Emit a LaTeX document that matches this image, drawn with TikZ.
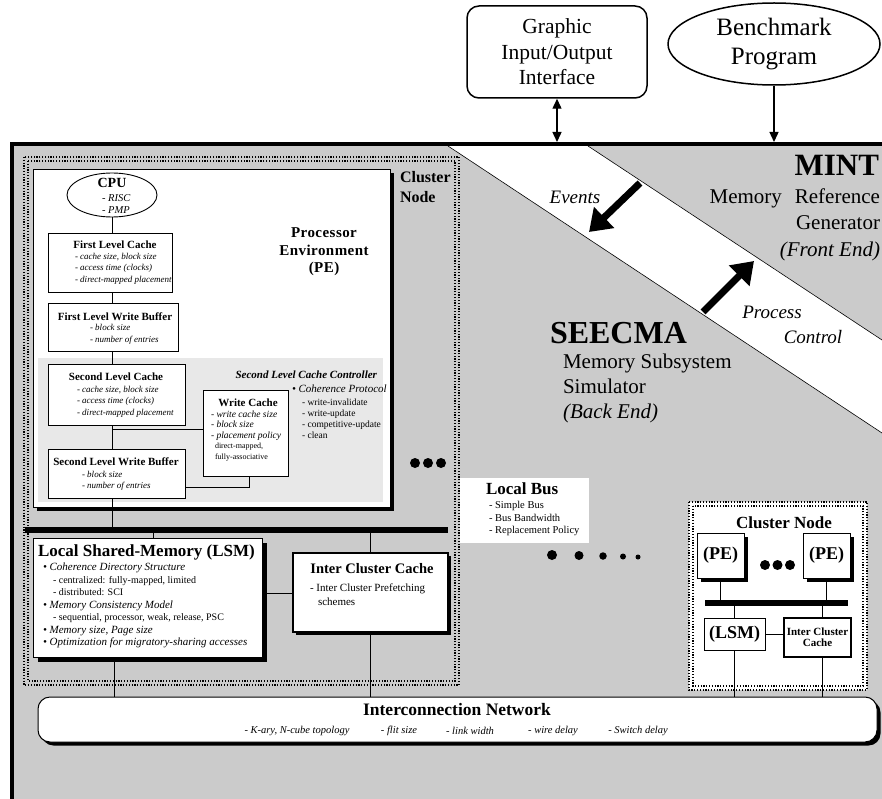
\documentclass[tikz,border=0pt]{standalone}
\usepackage{fontspec}
\setmainfont{Liberation Serif}
\usetikzlibrary{arrows.meta,shadows,shapes.geometric}
\pgfdeclarelayer{backdrop}
\pgfdeclarelayer{panels}
\pgfdeclarelayer{wires}
\pgfsetlayers{backdrop,panels,wires,main}
\definecolor{panelgray}{HTML}{CBCBCB}
\definecolor{ctrlgray}{HTML}{E8E8E8}
\newcommand{\pfont}[2]{\fontsize{#1}{#2}\selectfont}
\begin{document}
\begin{tikzpicture}[x=1pt,y=-1pt,
  lbl/.style={inner sep=0pt, outer sep=0pt, anchor=west, align=left},
  ctr/.style={inner sep=0pt, outer sep=0pt, align=center},
  rlbl/.style={inner sep=0pt, outer sep=0pt, anchor=east, align=right},
  unitbox/.style={draw=black, fill=white, line width=0.8pt, inner sep=0pt, outer sep=0pt, anchor=north west},
  castshadow/.style={drop shadow={shadow xshift=#1, shadow yshift=-#1, fill=black, opacity=1}},
  wire/.style={line width=0.9pt},
  busbar/.style={fill=black, draw=none, inner sep=0pt, outer sep=0pt, anchor=north west},
  dotframe/.style={draw=black, line width=1.3pt, dash pattern=on 1.2pt off 1.6pt},
  fatarrow/.style={line width=7pt, -{Triangle[length=21pt,width=28pt]}},
  thinarrow/.style={line width=1.4pt, -{Triangle[length=10pt,width=9pt]}},
  blob/.style={circle, fill=black, inner sep=0pt, minimum size=#1},
  titlef/.style={font=\pfont{11}{13}\bfseries},
  itemf/.style={font=\pfont{9}{11.5}\itshape},
]
\useasboundingbox (0,0) rectangle (882,799);

% ---------- simulator frame with the MINT / SEECMA split ----------
\begin{pgfonlayer}{backdrop}
  \fill[white] (0,0) rectangle (882,799);
  \fill[panelgray] (12,144) rectangle (882,799);
  \fill[white] (448,146) -- (588,146) -- (882,340) -- (882,433) -- cycle;
  \draw[line width=0.6pt] (448,146) -- (882,433);
  \draw[line width=0.6pt] (588,146) -- (882,340);
  \draw[line width=4pt] (12,799) -- (12,144) -- (882,144);
\end{pgfonlayer}

% ---------- inputs above the frame ----------
\node[draw, line width=1.5pt, rounded corners=12pt, minimum width=180, minimum height=92,
      inner sep=0pt, align=center, font=\pfont{21.5}{25.5}] (gio) at (557,52)
      {Graphic\\Input/Output\\Interface};
\node[draw, ellipse, line width=1.5pt, minimum width=212, minimum height=82, inner sep=0pt,
      align=center, font=\pfont{25}{29}] (bench) at (774,44) {Benchmark\\Program};
\coordinate (gio-in) at (557,142);
\coordinate (bench-in) at (774,142);
\draw[line width=1.4pt, {Triangle[length=10pt,width=9pt]}-{Triangle[length=10pt,width=9pt]}] (gio.south) -- (gio-in);
\draw[thinarrow] (bench.south) -- (bench-in);

% ---------- front end / back end ----------
\node[rlbl, font=\pfont{31}{31}\bfseries] (mint) at (879,165) {MINT};
\node[rlbl, font=\pfont{21}{26.5}] (mint-d) at (880,224.5)
      {Memory\hspace{13pt}Reference\\Generator\\\textit{(Front End)}};
\node[lbl, font=\pfont{32}{32}\bfseries] (seecma) at (550,333) {SEECMA};
\node[lbl, font=\pfont{21}{25}] (seecma-d) at (563,388)
      {Memory Subsystem\\Simulator\\\textit{(Back End)}};

\coordinate (ev-s) at (640,183);
\coordinate (ev-e) at (589,232);
\coordinate (pc-s) at (703,312);
\coordinate (pc-e) at (754,261);
\draw[fatarrow] (ev-s) -- (ev-e);
\draw[fatarrow] (pc-s) -- (pc-e);
\node[ctr, font=\pfont{19}{19}\itshape] (events) at (575,197) {Events};
\node[ctr, font=\pfont{19}{19}\itshape] (process) at (772,312) {Process};
\node[ctr, font=\pfont{19}{19}\itshape] (control) at (813,337) {Control};

% ---------- cluster node frames, processor environment ----------
\begin{pgfonlayer}{panels}
  \draw[dotframe] (24,157) rectangle (459,685);
  \draw[dotframe] (28,161) rectangle (455,681);
  \node[unitbox, castshadow=4pt, minimum width=357, minimum height=338] (pe) at (33,169) {};
  \node[fill=ctrlgray, inner sep=0pt, outer sep=0pt, anchor=north west,
        minimum width=345, minimum height=144] (slcc) at (38,358) {};
  \draw[dotframe, fill=white] (689,502) rectangle (867,690);
  \draw[dotframe] (693,506) rectangle (863,686);
\end{pgfonlayer}

\node[lbl, font=\pfont{16}{20}\bfseries] (cn-t) at (400,187) {Cluster\\Node};
\node[ctr, font=\pfont{15}{17.5}\bfseries\addfontfeature{LetterSpace=3}] (pe-t) at (324,252)
      {Processor\\Environment\\(PE)};

% CPU
\node[draw, ellipse, line width=0.9pt, fill=white, minimum width=90, minimum height=44, inner sep=0pt] (cpu) at (112,195) {};
\node[ctr, font=\pfont{14}{14}\bfseries] (cpu-t) at (112,183) {CPU};
\node[lbl, font=\pfont{10.5}{12}\itshape] (cpu-i) at (102,204) {- RISC\\- PMP};

% first level
\node[unitbox, minimum width=124, minimum height=59] (flc) at (48,233) {};
\node[ctr, titlef] (flc-t) at (115,245) {First Level Cache};
\node[lbl, itemf] (flc-i) at (75,268.5) {- cache size, block size\\- access time (clocks)\\- direct-mapped placement};

\node[unitbox, minimum width=130, minimum height=48] (flwb) at (48,303) {};
\node[ctr, titlef] (flwb-t) at (115,317) {First Level Write Buffer};
\node[lbl, itemf] (flwb-i) at (90,334.5) {- block size\\- number of entries};

% second level
\node[unitbox, minimum width=137, minimum height=61] (slc) at (48,364) {};
\node[ctr, titlef] (slc-t) at (116,377) {Second Level Cache};
\node[lbl, itemf] (slc-i) at (77,401.5) {- cache size, block size\\- access time (clocks)\\- direct-mapped placement};

\node[unitbox, minimum width=137, minimum height=49] (slwb) at (48,449) {};
\node[ctr, titlef] (slwb-t) at (116,462) {Second Level Write Buffer};
\node[lbl, itemf] (slwb-i) at (82,481) {- block size\\- number of entries};

\node[unitbox, minimum width=85, minimum height=86] (wc) at (203,390) {};
\node[ctr, titlef] (wc-t) at (248,403) {Write Cache};
\node[lbl, font=\pfont{9.5}{10.5}\itshape] (wc-i) at (211,425.5) {- write cache size\\- block size\\- placement policy};
\node[lbl, font=\pfont{8}{11}] (wc-p) at (215,452.5) {direct-mapped,\\fully-associative};

\node[rlbl, font=\pfont{11}{13}\bfseries\itshape] (slcc-t) at (377,375) {Second Level Cache Controller};
\node[lbl, font=\pfont{11}{13}\itshape] (slcc-p) at (292,389) {• Coherence Protocol};
\node[lbl, font=\pfont{9.5}{11}] (slcc-i) at (302,419) {- write-invalidate\\- write-update\\- competitive-update\\- clean};

\node[blob=10] (cd1) at (415,463) {};
\node[blob=10] (cd2) at (428,463) {};
\node[blob=10] (cd3) at (441,463) {};

% local bus of the cluster
\node[busbar, minimum width=423, minimum height=6] (bus) at (25,527) {};

% local shared memory
\node[unitbox, line width=1pt, castshadow=5pt, minimum width=229, minimum height=119] (lsm) at (33,538) {};
\node[lbl, font=\pfont{17}{19}\bfseries] (lsm-t) at (38,552) {Local Shared-Memory (LSM)};
\node[lbl, font=\pfont{10}{12.5}] (lsm-i) at (43,605.5)
  {{\pfont{11}{12.5}\itshape • Coherence Directory Structure}\\
   \hspace*{10pt}- centralized: fully-mapped, limited\\
   \hspace*{10pt}- distributed: SCI\\
   {\pfont{11}{12.5}\itshape • Memory Consistency Model}\\
   \hspace*{10pt}- sequential, processor, weak, release, PSC\\
   {\pfont{11}{12.5}\itshape • Memory size, Page size}\\
   {\pfont{11}{12.5}\itshape • Optimization for migratory-sharing accesses}};

% inter cluster cache
\node[unitbox, line width=1.5pt, castshadow=3pt, minimum width=155, minimum height=79] (icc) at (293,553) {};
\node[ctr, font=\pfont{14.5}{16}\bfseries] (icc-t) at (372,569) {Inter Cluster Cache};
\node[lbl, font=\pfont{11}{14}] (icc-i) at (310,595) {- Inter Cluster Prefetching\\\hspace*{8pt}schemes};

% local bus description
\node[fill=white, inner sep=0pt, outer sep=0pt, anchor=north west, minimum width=129, minimum height=65] (lbus) at (460,478) {};
\node[lbl, font=\pfont{17}{17}\bfseries] (lbus-t) at (486,489) {Local Bus};
\node[lbl, font=\pfont{10.5}{12.5}] (lbus-i) at (489,518.5) {- Simple Bus\\- Bus Bandwidth\\- Replacement Policy};

\node[blob=10] (bd1) at (552,555) {};
\node[blob=9] (bd2) at (579,555.5) {};
\node[blob=7.5] (bd3) at (603,556) {};
\node[blob=6] (bd4) at (623,556.5) {};
\node[blob=5] (bd5) at (638,557) {};

% remote cluster node
\node[ctr, font=\pfont{17}{17}\bfseries] (rcn-t) at (784,523) {Cluster Node};
\node[unitbox, castshadow=4pt, minimum width=47, minimum height=45, font=\pfont{18}{18}\bfseries] (rpe1) at (697,533) {(PE)};
\node[unitbox, castshadow=4pt, minimum width=47, minimum height=45, font=\pfont{18}{18}\bfseries] (rpe2) at (803,533) {(PE)};
\node[blob=10] (rd1) at (765,565) {};
\node[blob=10] (rd2) at (777.5,565) {};
\node[blob=10] (rd3) at (790,565) {};
\node[busbar, minimum width=143, minimum height=6] (rbus) at (705,600) {};
\node[unitbox, line width=0.6pt, minimum width=61, minimum height=32, font=\pfont{18}{18}\bfseries] (rlsm) at (704,618) {(LSM)};
\node[unitbox, line width=1.5pt, minimum width=67, minimum height=39, align=center, font=\pfont{11}{11}\bfseries] (ricc) at (784,618) {Inter Cluster\\Cache};

% interconnection network
\node[draw, line width=1pt, fill=white, rounded corners=12pt, minimum width=839, minimum height=45,
      anchor=north west, inner sep=0pt, outer sep=0pt, castshadow=3.5pt] (net) at (38,697) {};
\node[ctr, font=\pfont{17.5}{18}\bfseries] (net-t) at (457,710) {Interconnection Network};
\node[ctr, font=\pfont{10.5}{12}\itshape] (net-a) at (297,731) {- K-ary, N-cube topology};
\node[ctr, font=\pfont{10.5}{12}\itshape] (net-b) at (399,731) {- flit size};
\node[ctr, font=\pfont{10.5}{12}\itshape] (net-c) at (470,731) {- link width};
\node[ctr, font=\pfont{10.5}{12}\itshape] (net-d) at (553,731) {- wire delay};
\node[ctr, font=\pfont{10.5}{12}\itshape] (net-e) at (638,731) {- Switch delay};

% ---------- connections ----------
\begin{pgfonlayer}{wires}
  \draw[wire] (cpu.south) -- (cpu.south |- flc.north);
  \draw[wire] (cpu.south |- flc.south) -- (cpu.south |- flwb.north);
  \draw[wire] (cpu.south |- flwb.south) -- (cpu.south |- slc.north);
  \draw[wire] (cpu.south |- slc.south) -- (cpu.south |- slwb.north);
  \coordinate (slcjoin) at (112,429);
  \draw[wire] (slcjoin) -- (slcjoin -| wc.west);
  \coordinate (slwbport) at ([yshift=-13.5pt]slwb.east);
  \coordinate (wcport) at ([xshift=4pt]wc.south);
  \draw[wire] (slwbport) -| (wcport);
  \draw[wire] (cpu.south |- slwb.south) -- (cpu.south |- bus.north);

  \coordinate (lsmtap) at ([xshift=120pt]lsm.north west);
  \draw[wire] (lsmtap) -- (lsmtap |- bus.south);
  \draw[wire] (icc.north) -- (icc.north |- bus.south);
  \coordinate (lsmport) at ([yshift=4.5pt]lsm.east);
  \draw[wire] (lsmport) -- (lsmport -| icc.west);
  \coordinate (lsmdown) at ([xshift=81pt]lsm.south west);
  \draw[wire] (lsmdown) -- (lsmdown |- net.north);
  \draw[wire] (icc.south) -- (icc.south |- net.north);

  \draw[wire] (rpe1.south) -- (rpe1.south |- rbus.north);
  \draw[wire] (rpe2.south) -- (rpe2.south |- rbus.north);
  \draw[wire] (rlsm.north) -- (rlsm.north |- rbus.south);
  \coordinate (ricctap) at ([xshift=5pt]ricc.north);
  \draw[wire] (ricctap) -- (ricctap |- rbus.south);
  \draw[wire] (rlsm.east) -- (rlsm.east -| ricc.west);
  \draw[wire] (rlsm.south) -- (rlsm.south |- net.north);
  \coordinate (riccdown) at ([xshift=5pt]ricc.south);
  \draw[wire] (riccdown) -- (riccdown |- net.north);
\end{pgfonlayer}
\end{tikzpicture}
\end{document}
